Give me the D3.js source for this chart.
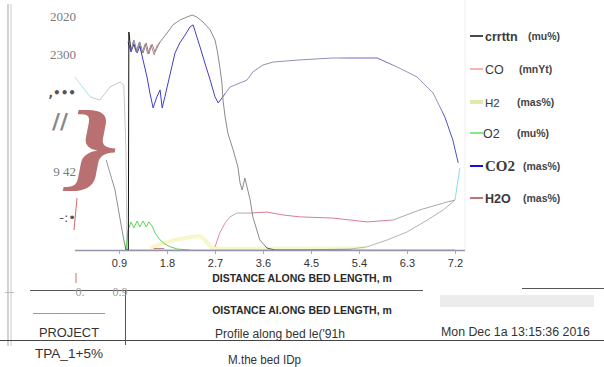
<!DOCTYPE html>
<html lang="en">
<head>
  <meta charset="UTF-8" />
  <title>Profile along bed length</title>
  <style>
    body {
      margin: 0;
      background: #fff;
      font-family: "Liberation Sans", Arial, sans-serif;
    }
    svg {
      display: block;
      background: #fff;
    }
  </style>
</head>
<body>
  <svg id="chart" width="604" height="367" viewBox="0 0 604 367" xmlns="http://www.w3.org/2000/svg"></svg>

  <script src="https://d3js.org/d3.v7.min.js"></script>
  <script>
    // distance (m) / value (%) pairs, null = gap in the line
    const carbon = [
      [0.66, 37.5], [0.825, 25], [0.94, 10.4], [0.99, 4.2], [1.03, 0], [1.075, 0], [1.085, 90.8],
      [1.125, 83.3], [1.18, 87.5], [1.24, 82.5], [1.29, 86.7], [1.35, 82], [1.41, 86.3], [1.46, 81.7],
      [1.52, 85.8], [1.575, 82.5], [1.67, 86.7], [1.8, 90.4], [1.91, 93.8], [2.04, 95.8], [2.175, 97.1],
      [2.27, 97.9], [2.36, 97.1], [2.475, 95], [2.61, 91.7], [2.7, 87.5], [2.74, 83.3], [2.79, 76.3],
      [2.83, 69.6], [2.85, 62.5], [2.89, 55.4], [2.94, 48.8], [3.04, 41.7], [3.13, 34.6], [3.17, 27.9],
      [3.21, 25], [3.26, 30], [3.3, 26.3], [3.36, 20.8], [3.41, 13.8], [3.54, 4.2], [3.675, 0.8],
      [3.825, 0], [5.23, 0], [7.2, 0]
    ];
    const co = [
      [1.16, 86.7], [1.22, 82.5], [1.275, 86.3], [1.33, 82.1], [1.39, 85.8], [1.44, 81.7], [1.5, 85.4],
      [1.56, 81.3], [1.61, 85], [1.67, 86.7], [1.7, null],
      [1.55, 0.6], [1.75, 0.6], [1.8, null],
      [2.7, 1.3], [2.79, 7.1], [2.89, 11.3], [2.98, 13.8], [3.11, 15.4], [3.36, 15.4], [3.675, 15.8],
      [3.975, 14.6], [4.29, 13.8], [4.91, 13.3], [5.55, 11.7], [6.04, 12.5], [6.54, 16.7], [7.05, 20],
      [7.2, 20.8]
    ];
    const h2 = [
      [1.48, 0.8], [1.67, 2.5], [1.95, 4.2], [2.23, 5.4], [2.42, 5.8], [2.51, 4.2], [2.64, 0.8],
      [2.9, 0.5], [3.3, 0.5], [4.9, 0.6], [5.5, 0.6]
    ];
    const o2 = [
      [1.03, 0], [1.07, 8.3], [1.125, 11.7], [1.18, 9.2], [1.24, 12.1], [1.29, 9.6], [1.35, 12.1],
      [1.41, 9.6], [1.46, 11.7], [1.52, 10], [1.575, 7.1], [1.67, 4.2], [1.76, 2.5], [1.86, 1.3],
      [2.0, 0.4], [2.23, 0]
    ];
    const co2 = [
      [1.07, 86.7], [1.125, 82.5], [1.18, 85.8], [1.24, 82.1], [1.29, 85], [1.35, 79.2], [1.425, 72.1],
      [1.48, 65.4], [1.54, 59.2], [1.61, 63.8], [1.67, 66.7], [1.71, 59.2], [1.76, 63.8], [1.82, 69.6],
      [1.89, 76.3], [1.95, 82.1], [2.04, 86.3], [2.14, 89.6], [2.23, 92.9], [2.29, 93.8], [2.36, 88.8],
      [2.42, 84.6], [2.51, 77.9], [2.61, 70.8], [2.7, 63.8], [2.76, 61.3], [2.83, 63.3], [2.98, 67.9],
      [3.17, 69.6], [3.3, 70.8], [3.41, 74.2], [3.6, 77.1], [3.79, 78.3], [4.29, 79.2], [4.91, 80],
      [5.74, 80], [6.11, 76.3], [6.49, 72.1], [6.79, 65.4], [7.01, 55.4], [7.16, 45.8], [7.26, 36.3]
    ];
    const h2o = [
      [0.075, 72], [0.36, 63.8], [0.54, 62.5], [0.73, 67.9], [0.92, 70], [0.99, 68.8], [1.03, 41.7],
      [1.05, 0], [4.29, 0], [5.23, 0.4], [5.55, 1.3], [5.93, 4.2], [6.3, 7.5], [6.68, 12.5],
      [6.98, 16.7], [7.2, 20.8], [7.29, 34.2]
    ];

    const xTicks = [0.9, 1.8, 2.7, 3.6, 4.5, 5.4, 6.3, 7.2];
    const yTickValues = [97, 81.3, 65.4, 32.5, 13.3];
    const yTickLabels = ["2020", "2300", ",\u2022\u2022\u2022", "9 42", "-:\u2022"];
    const lowerTicks = [0, 0.9];
    const lowerTickLabels = ["0.", "0.9"];

    const legendNames = ["crrttn", "CO", "H2", "O2", "CO2", "H2O"];
    const legendUnits = ["(mu%)", "(mnYt)", "(mas%)", "(mu%)", "(mas%)", "(mas%)"];

    const width = 604;
    const height = 367;
    const svg = d3.select("#chart");

    const x = d3.scaleLinear().domain([0, 7.2]).range([71, 455]);
    const y = d3.scaleLinear().domain([0, 100]).range([250, 10]);

    const line = d3.line()
      .defined(d => d[1] !== null)
      .x(d => x(d[0]))
      .y(d => y(d[1]));

    // gradients so one series can change tint like in the scan
    const defs = svg.append("defs");
    function grad(id, stops) {
      const g = defs.append("linearGradient")
        .attr("id", id)
        .attr("gradientUnits", "userSpaceOnUse")
        .attr("x1", x(0)).attr("x2", x(7.2)).attr("y1", 0).attr("y2", 0);
      stops.forEach(s => {
        g.append("stop").attr("offset", s[0] / 7.2).attr("stop-color", s[1]);
      });
    }
    grad("gCarbon", [[0.6, "#9a9a9a"], [1.0, "#8a8a8a"], [1.06, "#111"], [1.1, "#111"], [1.14, "#8a8a8a"], [3.6, "#8a8a8a"], [3.7, "#555"], [5.2, "#666"], [5.3, "#aaa"]]);
    grad("gCo2", [[1.0, "#3a3ad0"], [2.85, "#4040c8"], [2.9, "#9090b4"], [5.0, "#9090b4"], [5.2, "#6a6abc"], [5.9, "#6a6abc"], [6.1, "#9292b0"], [6.9, "#9292b0"], [7.0, "#5050c4"]]);
    grad("gH2o", [[0.0, "#a8e4ea"], [0.3, "#a8e4ea"], [0.4, "#c8c8c8"], [7.18, "#b0b0b0"], [7.22, "#8cdbe6"]]);
    grad("gCo", [[1.1, "#c07a7a"], [1.7, "#c07a7a"], [1.75, "#e58aa0"], [2.9, "#e58aa0"], [3.0, "#b0b0b0"], [3.3, "#b0b0b0"], [3.4, "#d87a90"], [5.9, "#e07a94"], [6.1, "#a8a8a8"]]);

    // frame pieces
    svg.append("line").attr("x1", 8).attr("x2", 8).attr("y1", 4).attr("y2", 346).attr("stroke", "#b4b4b4").attr("stroke-width", 1.2);
    svg.append("line").attr("x1", 11).attr("x2", 11).attr("y1", 4).attr("y2", 346).attr("stroke", "#c8c8c8").attr("stroke-width", 1);
    svg.append("line").attr("x1", 465).attr("x2", 465).attr("y1", 0).attr("y2", 250).attr("stroke", "#f0f0f0");

    // brace and stray marks on the left
    svg.append("text")
      .attr("transform", "translate(60,178) skewX(-11) scale(1.4,1)")
      .attr("font-family", "Liberation Serif")
      .attr("font-weight", "bold")
      .attr("font-size", 98)
      .attr("fill", "#b97070")
      .text("}");
    svg.append("text")
      .attr("x", 52).attr("y", 129)
      .attr("font-family", "DejaVu Sans")
      .attr("font-weight", "bold")
      .attr("font-size", 22)
      .attr("fill", "#888")
      .text("//");
    svg.append("line").attr("x1", 77).attr("y1", 198).attr("x2", 74).attr("y2", 230).attr("stroke", "#d06a6a").attr("stroke-width", 1);
    svg.append("line").attr("x1", 76).attr("y1", 273).attr("x2", 76).attr("y2", 283).attr("stroke", "#d06a6a").attr("stroke-width", 1);

    // y tick labels
    svg.append("g")
      .selectAll("text")
      .data(yTickValues)
      .enter().append("text")
      .attr("x", 76)
      .attr("y", d => y(d) + 4)
      .attr("text-anchor", "end")
      .attr("font-family", (d, i) => i === 2 || i === 4 ? "DejaVu Sans" : "Liberation Serif")
      .attr("font-weight", (d, i) => i === 2 ? "bold" : "normal")
      .attr("font-size", (d, i) => i === 2 ? 12 : 13)
      .attr("fill", (d, i) => i === 2 || i === 4 ? "#555" : "#7a7a7a")
      .text((d, i) => yTickLabels[i]);

    // series
    const plot = svg.append("g").attr("fill", "none").attr("stroke-linejoin", "round");
    plot.append("path").datum(h2).attr("d", line).attr("stroke", "#f0f2a8").attr("stroke-width", 4).attr("opacity", 0.6);
    plot.append("path").datum(h2o).attr("d", line).attr("stroke", "url(#gH2o)").attr("stroke-width", 1);
    plot.append("path").datum(o2).attr("d", line).attr("stroke", "#5ad85a").attr("stroke-width", 1);
    plot.append("path").datum(co).attr("d", line).attr("stroke", "url(#gCo)").attr("stroke-width", 1);
    plot.append("path").datum(co2).attr("d", line).attr("stroke", "url(#gCo2)").attr("stroke-width", 1);
    plot.append("path").datum(carbon).attr("d", line).attr("stroke", "url(#gCarbon)").attr("stroke-width", 1);

    // x axis
    svg.append("line").attr("x1", 75).attr("x2", 465).attr("y1", 250.5).attr("y2", 250.5)
      .attr("stroke", "#9494aa").attr("stroke-width", 1.5);
    const xAxis = svg.append("g")
      .attr("transform", "translate(0,251)")
      .call(d3.axisBottom(x).tickValues(xTicks).tickSize(3).tickFormat(d3.format(".1f")));
    xAxis.select(".domain").remove();
    xAxis.selectAll(".tick line").attr("stroke", "#aaa");
    xAxis.selectAll("text")
      .attr("font-family", "Liberation Sans, Arial, sans-serif")
      .attr("font-size", 11)
      .attr("fill", "#333")
      .attr("dy", "0.95em");

    svg.append("text")
      .attr("x", 302).attr("y", 282)
      .attr("text-anchor", "middle")
      .attr("font-size", 10.5)
      .attr("font-weight", "bold")
      .attr("fill", "#2a2a2a")
      .text("DISTANCE ALONG BED LENGTH, m");

    // lower title block
    svg.append("line").attr("x1", 30).attr("x2", 423).attr("y1", 290.5).attr("y2", 290.5).attr("stroke", "#555").attr("stroke-width", 1);
    svg.append("line").attr("x1", 522).attr("x2", 604).attr("y1", 288.5).attr("y2", 288.5).attr("stroke", "#555").attr("stroke-width", 1);
    svg.append("line").attr("x1", 33).attr("x2", 105).attr("y1", 313.5).attr("y2", 313.5).attr("stroke", "#999").attr("stroke-width", 1);
    svg.append("line").attr("x1", 0).attr("x2", 604).attr("y1", 340.5).attr("y2", 340.5).attr("stroke", "#444").attr("stroke-width", 1);
    svg.append("line").attr("x1", 125.5).attr("x2", 125.5).attr("y1", 290).attr("y2", 345).attr("stroke", "#555").attr("stroke-width", 1);
    svg.append("rect").attr("x", 440).attr("y", 295).attr("width", 154).attr("height", 12).attr("fill", "#ececec");
    svg.append("line").attr("x1", 5).attr("x2", 14).attr("y1", 292.5).attr("y2", 292.5).attr("stroke", "#bbb");

    svg.append("g")
      .selectAll("text")
      .data(lowerTicks)
      .enter().append("text")
      .attr("x", (d, i) => x(d) + (i === 0 ? 9 : 1))
      .attr("y", 296)
      .attr("text-anchor", "middle")
      .attr("font-family", "Liberation Serif")
      .attr("font-size", 12)
      .attr("fill", "#999")
      .text((d, i) => lowerTickLabels[i]);

    svg.append("text")
      .attr("x", 302).attr("y", 314)
      .attr("text-anchor", "middle")
      .attr("font-size", 10.5)
      .attr("font-weight", "bold")
      .attr("fill", "#2a2a2a")
      .text("OISTANCE AI.ONG BED LENGTH, m");

    const footer = [
      { t: "PROJECT", x: 39, y: 337, s: 13.5 },
      { t: "Profile along bed le('91h", x: 215, y: 338, s: 12.5 },
      { t: "Mon Dec 1a 13:15:36 2016", x: 441, y: 336, s: 12.5 },
      { t: "TPA_1+5%", x: 35, y: 358, s: 13 },
      { t: "M.the bed IDp", x: 228, y: 364, s: 12.5 }
    ];
    svg.append("g")
      .selectAll("text")
      .data(footer)
      .enter().append("text")
      .attr("x", d => d.x).attr("y", d => d.y)
      .attr("font-size", d => d.s)
      .attr("fill", "#333")
      .attr("textLength", (d, i) => [60, 130, 149, 68, 73][i])
      .attr("lengthAdjust", "spacingAndGlyphs")
      .text(d => d.t);

    // legend
    const legendColors = ["#4a4a4a", "#f29a9a", "#e2e8a6", "#5ee05e", "#1010e0", "#a84848"];
    const legendY = [36, 69, 102, 133, 166, 198];
    const unitX = [528, 519, 517, 517, 523, 523];
    const legend = svg.append("g");
    legendNames.forEach((name, i) => {
      const g = legend.append("g").attr("transform", `translate(0,${legendY[i]})`);
      g.append("line")
        .attr("x1", 470).attr("x2", 483)
        .attr("stroke", legendColors[i])
        .attr("stroke-width", i === 2 ? 4 : (i === 0 || i === 4 ? 2 : 1.5));
      g.append("text")
        .attr("x", i === 3 ? 483 : 485).attr("y", 4.5)
        .attr("font-family", i === 4 ? "Liberation Serif" : "Liberation Sans, Arial, sans-serif")
        .attr("font-weight", i === 0 || i === 4 || i === 5 ? "bold" : "normal")
        .attr("font-size", i === 4 ? 15 : (i === 2 ? 11.5 : 12.5))
        .attr("fill", "#3a3a3a")
        .text(name);
      g.append("text")
        .attr("x", unitX[i]).attr("y", 4)
        .attr("font-weight", "bold")
        .attr("font-size", 10.5)
        .attr("fill", "#444")
        .text(legendUnits[i]);
    });
  </script>
</body>
</html>
